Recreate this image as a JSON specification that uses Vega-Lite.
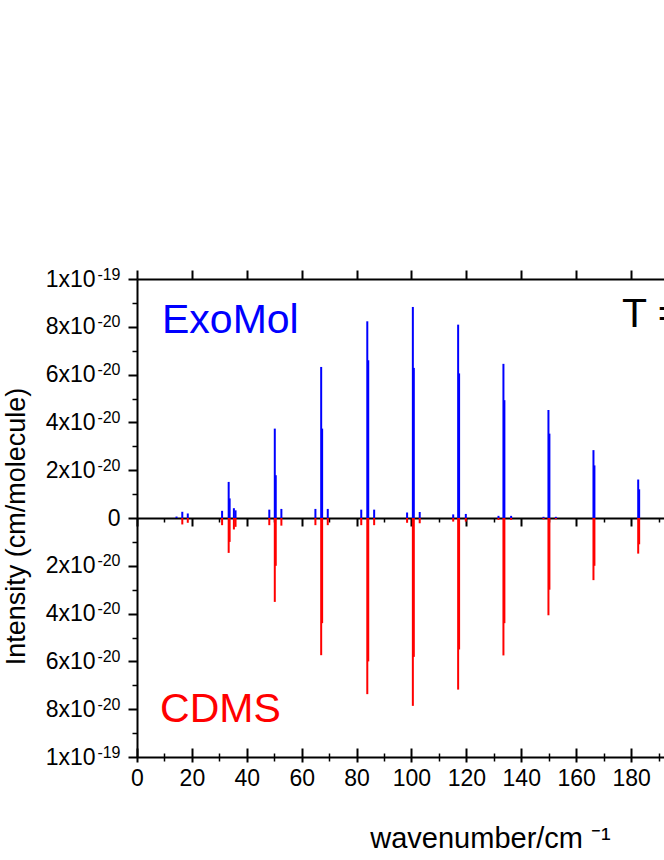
{
  "$schema": "https://vega.github.io/schema/vega-lite/v6.json",
  "width": 527,
  "height": 478,
  "autosize": {"type": "none"},
  "padding": {"left": 137, "top": 279, "right": 0, "bottom": 103},
  "background": "white",
  "config": {
    "view": {"stroke": null},
    "axis": {
      "grid": false,
      "domainColor": "#000000",
      "tickColor": "#000000",
      "labelColor": "#000000",
      "titleColor": "#000000",
      "labelFont": "Liberation Sans",
      "titleFont": "Liberation Sans",
      "titleFontWeight": "normal",
      "domainWidth": 2,
      "tickWidth": 2,
      "labelFlush": false,
      "labelOverlap": false
    }
  },
  "datasets": {
    "lines": [
      {"wn": 14.4, "I": 0.06e-20, "db": "ExoMol"},
      {"wn": 16.5, "I": 0.26e-20, "db": "ExoMol"},
      {"wn": 18.5, "I": 0.19e-20, "db": "ExoMol"},
      {"wn": 31.0, "I": 0.30e-20, "db": "ExoMol"},
      {"wn": 33.4, "I": 1.51e-20, "db": "ExoMol"},
      {"wn": 33.75, "I": 0.82e-20, "db": "ExoMol"},
      {"wn": 35.3, "I": 0.41e-20, "db": "ExoMol"},
      {"wn": 35.9, "I": 0.32e-20, "db": "ExoMol"},
      {"wn": 48.2, "I": 0.35e-20, "db": "ExoMol"},
      {"wn": 50.2, "I": 3.74e-20, "db": "ExoMol"},
      {"wn": 50.55, "I": 1.79e-20, "db": "ExoMol"},
      {"wn": 52.6, "I": 0.38e-20, "db": "ExoMol"},
      {"wn": 65.0, "I": 0.38e-20, "db": "ExoMol"},
      {"wn": 67.1, "I": 6.32e-20, "db": "ExoMol"},
      {"wn": 67.45, "I": 3.74e-20, "db": "ExoMol"},
      {"wn": 69.5, "I": 0.38e-20, "db": "ExoMol"},
      {"wn": 81.7, "I": 0.35e-20, "db": "ExoMol"},
      {"wn": 83.9, "I": 8.23e-20, "db": "ExoMol"},
      {"wn": 84.25, "I": 6.6e-20, "db": "ExoMol"},
      {"wn": 86.4, "I": 0.35e-20, "db": "ExoMol"},
      {"wn": 98.4, "I": 0.23e-20, "db": "ExoMol"},
      {"wn": 100.5, "I": 8.83e-20, "db": "ExoMol"},
      {"wn": 100.85, "I": 6.28e-20, "db": "ExoMol"},
      {"wn": 103.0, "I": 0.25e-20, "db": "ExoMol"},
      {"wn": 115.2, "I": 0.15e-20, "db": "ExoMol"},
      {"wn": 117.0, "I": 8.09e-20, "db": "ExoMol"},
      {"wn": 117.35, "I": 6.05e-20, "db": "ExoMol"},
      {"wn": 119.8, "I": 0.17e-20, "db": "ExoMol"},
      {"wn": 131.7, "I": 0.09e-20, "db": "ExoMol"},
      {"wn": 133.5, "I": 6.45e-20, "db": "ExoMol"},
      {"wn": 133.85, "I": 4.93e-20, "db": "ExoMol"},
      {"wn": 136.3, "I": 0.09e-20, "db": "ExoMol"},
      {"wn": 148.1, "I": 0.05e-20, "db": "ExoMol"},
      {"wn": 149.9, "I": 4.52e-20, "db": "ExoMol"},
      {"wn": 150.25, "I": 3.53e-20, "db": "ExoMol"},
      {"wn": 152.6, "I": 0.05e-20, "db": "ExoMol"},
      {"wn": 166.3, "I": 2.84e-20, "db": "ExoMol"},
      {"wn": 166.65, "I": 2.2e-20, "db": "ExoMol"},
      {"wn": 182.6, "I": 1.61e-20, "db": "ExoMol"},
      {"wn": 182.95, "I": 1.2e-20, "db": "ExoMol"},
      {"wn": 16.5, "I": -0.27e-20, "db": "CDMS"},
      {"wn": 18.5, "I": -0.2e-20, "db": "CDMS"},
      {"wn": 31.0, "I": -0.3e-20, "db": "CDMS"},
      {"wn": 33.4, "I": -1.46e-20, "db": "CDMS"},
      {"wn": 33.75, "I": -1.0e-20, "db": "CDMS"},
      {"wn": 35.3, "I": -0.48e-20, "db": "CDMS"},
      {"wn": 35.9, "I": -0.37e-20, "db": "CDMS"},
      {"wn": 48.2, "I": -0.3e-20, "db": "CDMS"},
      {"wn": 50.2, "I": -3.51e-20, "db": "CDMS"},
      {"wn": 50.55, "I": -2.0e-20, "db": "CDMS"},
      {"wn": 52.6, "I": -0.32e-20, "db": "CDMS"},
      {"wn": 65.0, "I": -0.3e-20, "db": "CDMS"},
      {"wn": 67.1, "I": -5.74e-20, "db": "CDMS"},
      {"wn": 67.45, "I": -4.4e-20, "db": "CDMS"},
      {"wn": 69.5, "I": -0.3e-20, "db": "CDMS"},
      {"wn": 81.7, "I": -0.3e-20, "db": "CDMS"},
      {"wn": 83.9, "I": -7.37e-20, "db": "CDMS"},
      {"wn": 84.25, "I": -6.0e-20, "db": "CDMS"},
      {"wn": 86.4, "I": -0.3e-20, "db": "CDMS"},
      {"wn": 98.4, "I": -0.2e-20, "db": "CDMS"},
      {"wn": 100.5, "I": -7.86e-20, "db": "CDMS"},
      {"wn": 100.85, "I": -5.81e-20, "db": "CDMS"},
      {"wn": 103.0, "I": -0.22e-20, "db": "CDMS"},
      {"wn": 115.2, "I": -0.15e-20, "db": "CDMS"},
      {"wn": 117.0, "I": -7.18e-20, "db": "CDMS"},
      {"wn": 117.35, "I": -5.5e-20, "db": "CDMS"},
      {"wn": 119.8, "I": -0.15e-20, "db": "CDMS"},
      {"wn": 131.7, "I": -0.08e-20, "db": "CDMS"},
      {"wn": 133.5, "I": -5.75e-20, "db": "CDMS"},
      {"wn": 133.85, "I": -4.4e-20, "db": "CDMS"},
      {"wn": 136.3, "I": -0.08e-20, "db": "CDMS"},
      {"wn": 148.1, "I": -0.05e-20, "db": "CDMS"},
      {"wn": 149.9, "I": -4.07e-20, "db": "CDMS"},
      {"wn": 150.25, "I": -3.0e-20, "db": "CDMS"},
      {"wn": 152.6, "I": -0.05e-20, "db": "CDMS"},
      {"wn": 166.3, "I": -2.6e-20, "db": "CDMS"},
      {"wn": 166.65, "I": -2.0e-20, "db": "CDMS"},
      {"wn": 182.6, "I": -1.49e-20, "db": "CDMS"},
      {"wn": 182.95, "I": -1.1e-20, "db": "CDMS"}
    ],
    "notes": [
      {"wn": 9.1, "I": 7.73e-20, "label": "ExoMol", "db": "ExoMol"},
      {"wn": 8.4, "I": -8.53e-20, "label": "CDMS", "db": "CDMS"},
      {"wn": 176.7, "I": 7.98e-20, "label": "T = 296 K", "db": "T"}
    ]
  },
  "layer": [
    {
      "data": {"name": "lines"},
      "mark": {"type": "rule", "strokeWidth": 2},
      "encoding": {
        "x": {
          "field": "wn", "type": "quantitative",
          "scale": {"domain": [0, 192], "nice": false, "zero": false},
          "axis": {
            "orient": "bottom",
            "values": [0, 20, 40, 60, 80, 100, 120, 140, 160, 180],
            "tickSize": 5,
            "labelFontSize": 23,
            "labelPadding": 5,
            "title": "wavenumber/cm ⁻¹",
            "titleFontSize": 29,
            "titleX": 353,
            "titleY": 90,
            "titleAlign": "center",
            "titleBaseline": "alphabetic"
          }
        },
        "y": {
          "field": "I", "type": "quantitative",
          "scale": {"domain": [-1e-19, 1e-19], "nice": false, "zero": false},
          "axis": {
            "orient": "left",
            "values": [-1e-19, -8e-20, -6e-20, -4e-20, -2e-20, 0, 2e-20, 4e-20, 6e-20, 8e-20, 1e-19],
            "tickSize": 9,
            "labelFontSize": 23,
            "labelPadding": 33,
            "labelExpr": "datum.value === 0 ? '' : (abs(datum.value) > 9.5e-20 ? '1x10' : round(abs(datum.value) * 1e20) + 'x10')",
            "title": "Intensity (cm/molecule)",
            "titleFontSize": 27,
            "titleX": -107,
            "titleY": 247,
            "titleAngle": -90,
            "titleAlign": "center",
            "titleBaseline": "bottom"
          }
        },
        "y2": {"datum": 0},
        "color": {
          "field": "db", "type": "nominal",
          "scale": {"domain": ["ExoMol", "CDMS", "T"], "range": ["#0000ff", "#ff0000", "#000000"]},
          "legend": null
        }
      }
    },
    {
      "data": {"name": "notes"},
      "mark": {"type": "text", "align": "left", "baseline": "alphabetic", "font": "Liberation Sans", "fontSize": 41},
      "encoding": {
        "x": {
          "field": "wn", "type": "quantitative",
          "axis": {
            "orient": "bottom",
            "values": [0, 20, 40, 60, 80, 100, 120, 140, 160, 180],
            "tickSize": -9,
            "labels": false,
            "domain": false,
            "title": null
          }
        },
        "y": {
          "field": "I", "type": "quantitative",
          "axis": {
            "orient": "left",
            "values": [-1e-19, -8e-20, -6e-20, -4e-20, -2e-20, 0, 2e-20, 4e-20, 6e-20, 8e-20, 1e-19],
            "ticks": false,
            "tickSize": 0,
            "domain": false,
            "labelPadding": 17,
            "labelExpr": "datum.value === 0 ? '0' : (abs(datum.value) > 9.5e-20 ? '-19' : '-20')",
            "labelFontSize": {"condition": {"test": "datum.value === 0", "value": 23}, "value": 16},
            "labelBaseline": {"condition": {"test": "datum.value === 0", "value": "middle"}, "value": "alphabetic"},
            "title": null
          }
        },
        "text": {"field": "label", "type": "nominal"},
        "color": {"field": "db", "type": "nominal", "legend": null}
      }
    },
    {
      "data": {"name": "lines"},
      "mark": {"type": "rule", "opacity": 0},
      "encoding": {
        "x": {
          "field": "wn", "type": "quantitative",
          "axis": {
            "orient": "bottom",
            "values": [10, 30, 50, 70, 90, 110, 130, 150, 170, 190],
            "tickSize": 4,
            "tickWidth": 1.5,
            "labels": false,
            "domain": false,
            "title": null
          }
        },
        "y": {
          "field": "I", "type": "quantitative",
          "axis": {
            "orient": "left",
            "values": [-9e-20, -7e-20, -5e-20, -3e-20, -1e-20, 1e-20, 3e-20, 5e-20, 7e-20, 9e-20],
            "tickSize": 5,
            "tickWidth": 1.5,
            "labels": false,
            "domain": false,
            "title": null
          }
        },
        "y2": {"datum": 0}
      }
    },
    {
      "data": {"name": "lines"},
      "mark": {"type": "rule", "opacity": 0},
      "encoding": {
        "x": {
          "field": "wn", "type": "quantitative",
          "axis": {
            "orient": "bottom",
            "values": [10, 30, 50, 70, 90, 110, 130, 150, 170, 190],
            "tickSize": -4,
            "tickWidth": 1.5,
            "labels": false,
            "domain": false,
            "title": null
          }
        },
        "y": {"field": "I", "type": "quantitative", "axis": null},
        "y2": {"datum": 0}
      }
    },
    {
      "data": {"name": "lines"},
      "mark": {"type": "rule", "opacity": 0},
      "encoding": {
        "x": {
          "field": "wn", "type": "quantitative",
          "axis": {
            "orient": "top",
            "values": [0, 20, 40, 60, 80, 100, 120, 140, 160, 180],
            "tickSize": 9,
            "labels": false,
            "title": null
          }
        },
        "y": {"field": "I", "type": "quantitative", "axis": null},
        "y2": {"datum": 0}
      }
    },
    {
      "data": {"name": "lines"},
      "mark": {"type": "rule", "opacity": 0},
      "encoding": {
        "x": {
          "field": "wn", "type": "quantitative",
          "axis": {
            "orient": "bottom",
            "offset": -239,
            "values": [0, 20, 40, 60, 80, 100, 120, 140, 160, 180],
            "tickSize": 8,
            "labels": false,
            "title": null
          }
        },
        "y": {"field": "I", "type": "quantitative", "axis": null},
        "y2": {"datum": 0}
      }
    },
    {
      "data": {"name": "lines"},
      "mark": {"type": "rule", "opacity": 0},
      "encoding": {
        "x": {
          "field": "wn", "type": "quantitative",
          "axis": {
            "orient": "bottom",
            "offset": -239,
            "values": [10, 30, 50, 70, 90, 110, 130, 150, 170, 190],
            "tickSize": 4,
            "tickWidth": 1.5,
            "labels": false,
            "domain": false,
            "title": null
          }
        },
        "y": {"field": "I", "type": "quantitative", "axis": null},
        "y2": {"datum": 0}
      }
    }
  ],
  "resolve": {"axis": {"x": "independent", "y": "independent"}}
}
